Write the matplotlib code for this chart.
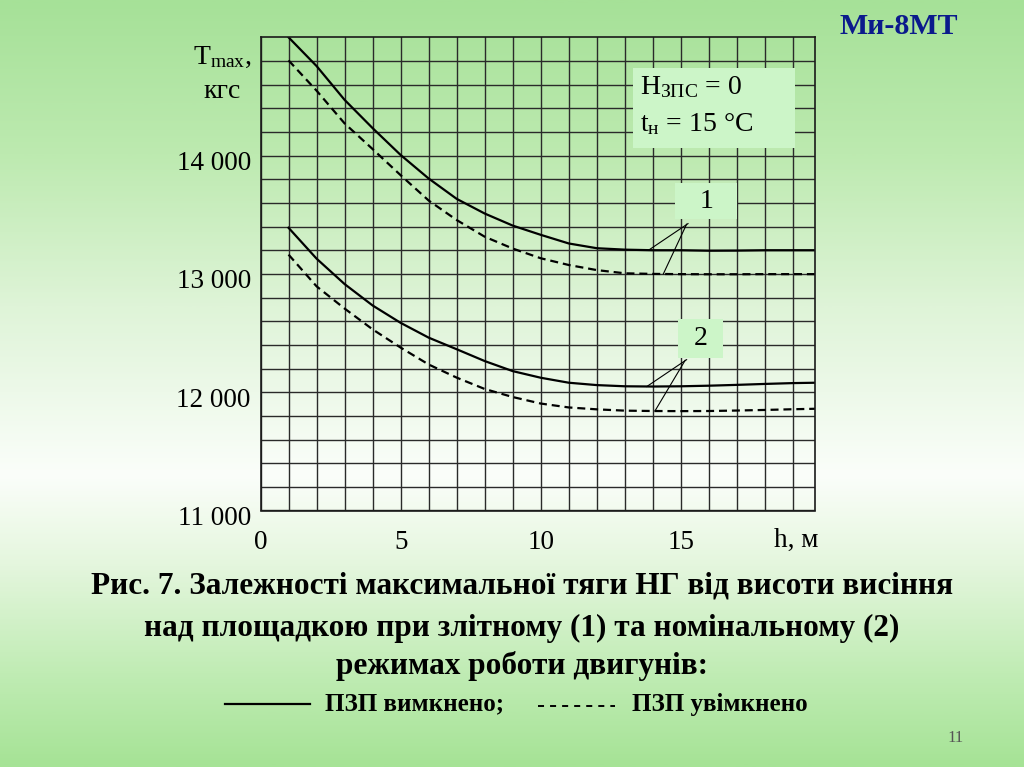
import numpy as np
import matplotlib.pyplot as plt
import matplotlib.transforms as mtransforms
from matplotlib.colors import LinearSegmentedColormap
from matplotlib.lines import Line2D
from matplotlib.patches import Rectangle

plt.rcParams['font.family'] = ['Liberation Serif', 'DejaVu Serif']
plt.rcParams['mathtext.fontset'] = 'custom'
plt.rcParams['mathtext.rm'] = 'Liberation Serif'
plt.rcParams['mathtext.it'] = 'Liberation Serif:italic'

# height above pad, m
h = [1, 2, 3, 4, 5, 6, 7, 8, 9, 10, 11, 12, 13, 14, 15, 16, 17, 18, 19, 19.8]
# Tmax, kgf ; 1 = emergency mode, 2 = nominal mode ; solid = dust protection off, dashed = on
t1_off = [15000, 14757, 14471, 14232, 14005, 13806, 13634, 13510, 13408, 13330,
          13257, 13217, 13205, 13200, 13200, 13196, 13197, 13200, 13200, 13200]
t1_on = [14805, 14549, 14272, 14055, 13834, 13620, 13455, 13314, 13214, 13132,
         13075, 13032, 13005, 13000, 12998, 12997, 12997, 12998, 12998, 12998]
t2_off = [13390, 13129, 12914, 12733, 12586, 12461, 12363, 12263, 12178, 12122,
          12080, 12060, 12050, 12048, 12050, 12055, 12062, 12070, 12077, 12080]
t2_on = [13163, 12895, 12707, 12531, 12377, 12234, 12123, 12027, 11959, 11904,
         11871, 11855, 11844, 11841, 11840, 11841, 11845, 11850, 11856, 11860]

xticks = [0, 5, 10, 15]
yticks = [11000, 12000, 13000, 14000]
ytick_labels = ['11 000', '12 000', '13 000', '14 000']

W, H = 1024, 767
fig = plt.figure(figsize=(W / 100, H / 100), dpi=100)

# slide background: green - white - green vertical gradient
bg = fig.add_axes([0, 0, 1, 1], zorder=-5)
cmap = LinearSegmentedColormap.from_list('slide', [
    (0.0, '#a6e198'), (0.2, '#bdeab0'), (0.4, '#dff4d8'), (0.62, '#fbfefa'),
    (0.74, '#e4f6dd'), (0.88, '#c0ecb4'), (1.0, '#a6e396')])
bg.imshow(np.linspace(0, 1, 400).reshape(-1, 1), aspect='auto', cmap=cmap,
          extent=[0, 1, 0, 1])
bg.axis('off')

def fx(px):
    return px / W

def fy(py):
    return 1 - py / H

ax = fig.add_axes([fx(260.5), fy(510.5), (815 - 260.5) / W, (510.5 - 37.3) / H])
ax.set_facecolor('none')
ax.set_xlim(0, 19.78)
ax.set_ylim(11000, 15000)

ax.set_xticks(xticks)
ax.set_xticks(np.arange(1, 20), minor=True)
ax.set_yticks(yticks)
ax.set_yticklabels(ytick_labels)
ax.set_yticks(np.arange(11200, 15000, 200), minor=True)
ax.grid(True, which='both', color='#2a2a2a', lw=1.0)
ax.tick_params(which='both', length=0, labelsize=19.5)
ax.tick_params(axis='x', pad=14)
ax.tick_params(axis='y', pad=7)
shift = mtransforms.ScaledTranslation(0, -5 / 100, fig.dpi_scale_trans)
for lab in ax.get_yticklabels():
    lab.set_transform(lab.get_transform() + shift)
for s in ax.spines.values():
    s.set_linewidth(1.2)
    s.set_color('#1a1a1a')

ax.plot(h, t1_off, color='black', lw=1.6)
ax.plot(h, t1_on, color='black', lw=1.6, dashes=(3.6, 2.2))
ax.plot(h, t2_off, color='black', lw=1.6)
ax.plot(h, t2_on, color='black', lw=1.6, dashes=(3.6, 2.2))

# condition box
box_c = '#ccf5c8'
ax.add_patch(Rectangle((13.28, 14062), 5.78, 676, fc=box_c, ec='none', zorder=3))
ax.text(13.55, 14575, r'H$_{\mathrm{ЗПС}}$ = 0', fontsize=20, va='center', zorder=4)
ax.text(13.55, 14262, r't$_{\mathrm{н}}$ = 15 °C', fontsize=20, va='center', zorder=4)

# curve labels with leader lines
ax.add_patch(Rectangle((14.8, 13460), 2.2, 310, fc=box_c, ec='none', zorder=3))
ax.text(15.9, 13615, '1', fontsize=20, ha='center', va='center', zorder=4)
ax.plot([15.25, 13.84], [13425, 13200], color='black', lw=0.8)
ax.plot([15.2, 14.37], [13420, 13000], color='black', lw=0.8)

ax.add_patch(Rectangle((14.9, 12290), 1.6, 330, fc=box_c, ec='none', zorder=3))
ax.text(15.7, 12455, '2', fontsize=20, ha='center', va='center', zorder=4)
ax.plot([15.2, 13.78], [12275, 12048], color='black', lw=0.8)
ax.plot([15.15, 14.07], [12270, 11841], color='black', lw=0.8)

# axis labels
fig.text(fx(193), fy(57), r'T$_{\mathrm{max}}$,', fontsize=20, va='center', ha='left')
fig.text(fx(222), fy(91), 'кгс', fontsize=20, va='center', ha='center')
ax.text(19.1, -0.064, 'h, м', transform=ax.get_xaxis_transform(), fontsize=19.5,
        ha='center', va='center')

fig.text(fx(899), fy(27), 'Ми-8МТ', fontsize=21.5, fontweight='bold',
         color='#0b1a8c', ha='center', va='center')

cap = ['Рис. 7. Залежності максимальної тяги НГ від висоти висіння',
       'над площадкою при злітному (1) та номінальному (2)',
       'режимах роботи двигунів:']
for line, py in zip(cap, [586, 628, 666]):
    fig.text(fx(522), fy(py), line, fontsize=22.5, fontweight='bold',
             ha='center', va='center')

fig.add_artist(Line2D([fx(225), fx(310)], [fy(704), fy(704)], color='black', lw=1.6))
fig.text(fx(325), fy(704), 'ПЗП вимкнено;', fontsize=18, fontweight='bold', va='center')
fig.add_artist(Line2D([fx(538), fx(615)], [fy(706), fy(706)], color='black', lw=1.4,
                      dashes=(3.1, 3.1)))
fig.text(fx(632), fy(704), 'ПЗП увімкнено', fontsize=18, fontweight='bold', va='center')

fig.text(fx(956), fy(738), '11', fontsize=12, color='#555555', ha='center', va='center')

fig.savefig('out.png', dpi=100)
